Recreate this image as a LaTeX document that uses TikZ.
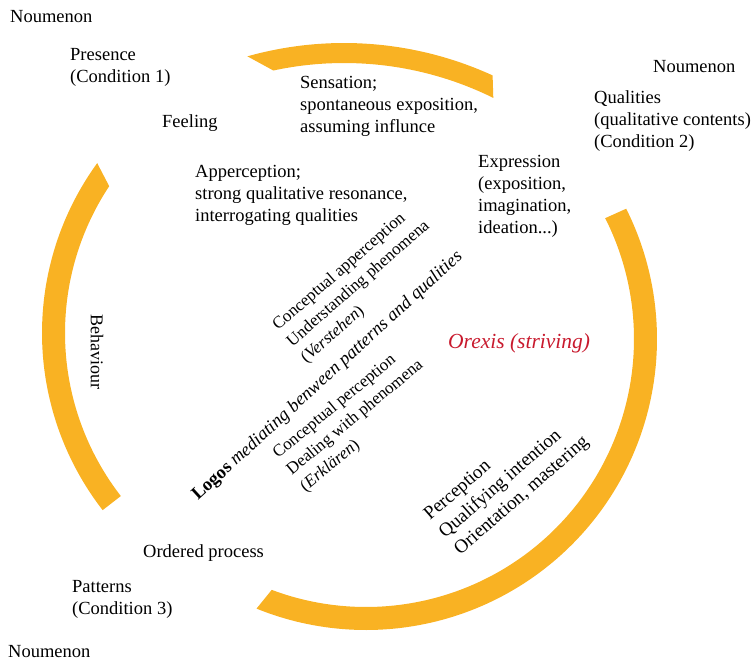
\documentclass[tikz,border=0pt]{standalone}
\usepackage{fontspec}
\setmainfont{Liberation Serif}
\definecolor{arcorange}{RGB}{249,178,35}
\definecolor{orexisred}{RGB}{200,25,45}
\newcommand{\linestack}[1]{\begin{tabular}[t]{@{}l@{}}#1\end{tabular}}
\tikzset{
  lbl/.style={anchor=base west, inner sep=0pt, font=\fontsize{18.5}{22}\selectfont},
  rotlbl/.style={anchor=base west, inner sep=0pt, rotate=41, font=\fontsize{17}{21.5}\selectfont},
  band/.style={fill=arcorange, draw=none},
}
\begin{document}
\begin{tikzpicture}[x=1pt, y=-1pt]
\useasboundingbox (0,0) rectangle (753,662);
% arcs
\fill[band] plot[domain=-105.7:-65.4, samples=60] ({344+357*cos(\x)},{400+357*sin(\x)})
  -- plot[domain=-63.7:-102.1, samples=60] ({344+337*cos(\x)},{400+337*sin(\x)}) -- cycle;
\fill[band] plot[domain=-26.6:112.1, samples=120] ({366+291*cos(\x)},{339+291*sin(\x)})
  -- plot[domain=110.6:-26.8, samples=120] ({366+268*cos(\x)},{339+268*sin(\x)}) -- cycle;
\fill[band] plot[domain=142.2:216, samples=80] ({331+289*cos(\x)},{333+289*sin(\x)})
  -- plot[domain=213.5:142.2, samples=80] ({331+266*cos(\x)},{333+266*sin(\x)}) -- cycle;
% horizontal labels
\node[lbl] (nounw) at (10,22) {Noumenon};
\node[lbl] (presence) at (70,60) {\linestack{Presence\\(Condition 1)}};
\node[lbl] (feeling) at (162,127) {Feeling};
\node[lbl] (sensation) at (300,88) {\linestack{Sensation;\\spontaneous exposition,\\assuming influnce}};
\node[lbl] (apperc) at (195,177) {\linestack{Apperception;\\strong qualitative resonance,\\interrogating qualities}};
\node[lbl] (nounne) at (653,72) {Noumenon};
\node[lbl] (qualities) at (594,103) {\linestack{Qualities\\(qualitative contents)\\(Condition 2)}};
\node[lbl] (expression) at (478,167) {\linestack{Expression\\(exposition,\\imagination,\\ideation...)}};
\node[anchor=base west, inner sep=0pt, font=\fontsize{21.5}{24}\selectfont\itshape, text=orexisred] (orexis) at (448,348) {Orexis (striving)};
\node[inner sep=0pt, rotate=-90, font=\fontsize{18}{22}\selectfont] (behaviour) at (97,352) {Behaviour};
\node[lbl] (ordered) at (143,557) {Ordered process};
\node[lbl] (patterns) at (72,592) {\linestack{Patterns\\(Condition 3)}};
\node[lbl] (nounsw) at (8,657) {Noumenon};
% rotated labels
\node[rotlbl] (verstehen) at (278,331) {\linestack{Conceptual apperception\\Understanding phenomena\\(\textit{Verstehen})}};
\node[rotlbl, rotate=1.5, font=\fontsize{18.4}{22}\selectfont] (logos) at (198,501) {\textbf{Logos} \textit{mediating benween patterns and qualities}};
\node[rotlbl, rotate=-1.5] (erklaren) at (278,459) {\linestack{Conceptual perception\\Dealing with phenomena\\(\textit{Erklären})}};
\node[rotlbl, font=\fontsize{19}{23}\selectfont] (perception) at (430,521) {\linestack{Perception\\Qualifying intention\\Orientation, mastering}};
\end{tikzpicture}
\end{document}
